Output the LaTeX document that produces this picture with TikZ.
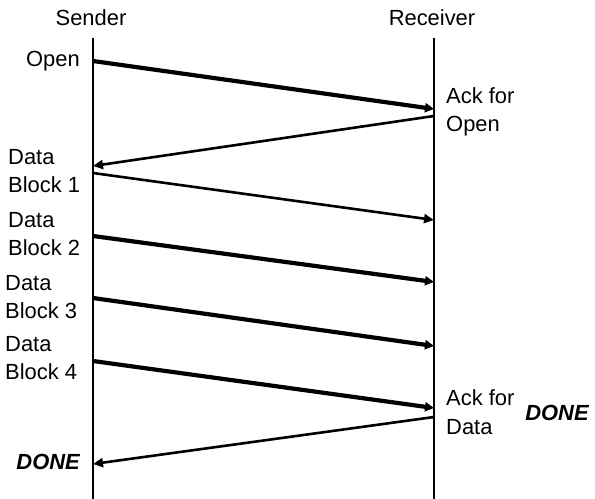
\documentclass[tikz,border=0pt]{standalone}
\usepackage{fontspec}
\setmainfont{Liberation Sans}
\usetikzlibrary{arrows.meta}

\begin{document}
\begin{tikzpicture}[
  x=1bp, y=-1bp,
  font=\fontsize{22}{28.5}\selectfont,
  actor/.style={inner sep=0pt},
  lbl/.style={inner sep=0pt, align=left},
  life/.style={line width=2.4bp},
  msg/.style={line width=4.2bp, -{Triangle[length=9bp,width=9bp]}},
  thinmsg/.style={line width=2.6bp, -{Triangle[length=10bp,width=9bp]}},
  done/.style={inner sep=0pt, font=\fontsize{22}{28.5}\selectfont\bfseries\itshape}
]
\useasboundingbox (0,0) rectangle (595,499);

\node[actor] (sender) at (91,18) {Sender};
\node[actor] (receiver) at (432,18) {Receiver};

\coordinate (stop) at (93,38);
\coordinate (sbot) at (93,499);
\coordinate (rtop) at (434,38);
\coordinate (rbot) at (434,499);
\draw[life] (stop) -- (sbot);
\draw[life] (rtop) -- (rbot);

\coordinate (s1) at (93,61);
\coordinate (r1) at (434,109);
\coordinate (r2) at (434,116);
\coordinate (s2) at (93,166);
\coordinate (s3) at (93,173);
\coordinate (r3) at (434,220);
\coordinate (s4) at (93,236);
\coordinate (r4) at (434,282);
\coordinate (s5) at (93,298);
\coordinate (r5) at (434,346);
\coordinate (s6) at (93,361);
\coordinate (r6) at (434,408);
\coordinate (r7) at (434,417);
\coordinate (s7) at (93,464);

\node[lbl, anchor=east] (open) at (80,61) {Open};
\node[lbl, anchor=west] (ackopen) at (446,112) {Ack for\\Open};
\node[lbl, anchor=west] (block1) at (8,171) {Data\\Block 1};
\node[lbl, anchor=west] (block2) at (8,234) {Data\\Block 2};
\node[lbl, anchor=west] (block3) at (5,297) {Data\\Block 3};
\node[lbl, anchor=west] (block4) at (5,358) {Data\\Block 4};
\node[lbl, anchor=west] (ackdata) at (446,412) {Ack for\\Data};
\node[done] (donercv) at (557,413) {DONE};
\node[done, anchor=east] (donesnd) at (80,462) {DONE};

\draw[msg] (s1) -- (r1);
\draw[thinmsg] (r2) -- (s2);
\draw[thinmsg] (s3) -- (r3);
\draw[msg] (s4) -- (r4);
\draw[msg] (s5) -- (r5);
\draw[msg] (s6) -- (r6);
\draw[thinmsg] (r7) -- (s7);
\end{tikzpicture}
\end{document}
